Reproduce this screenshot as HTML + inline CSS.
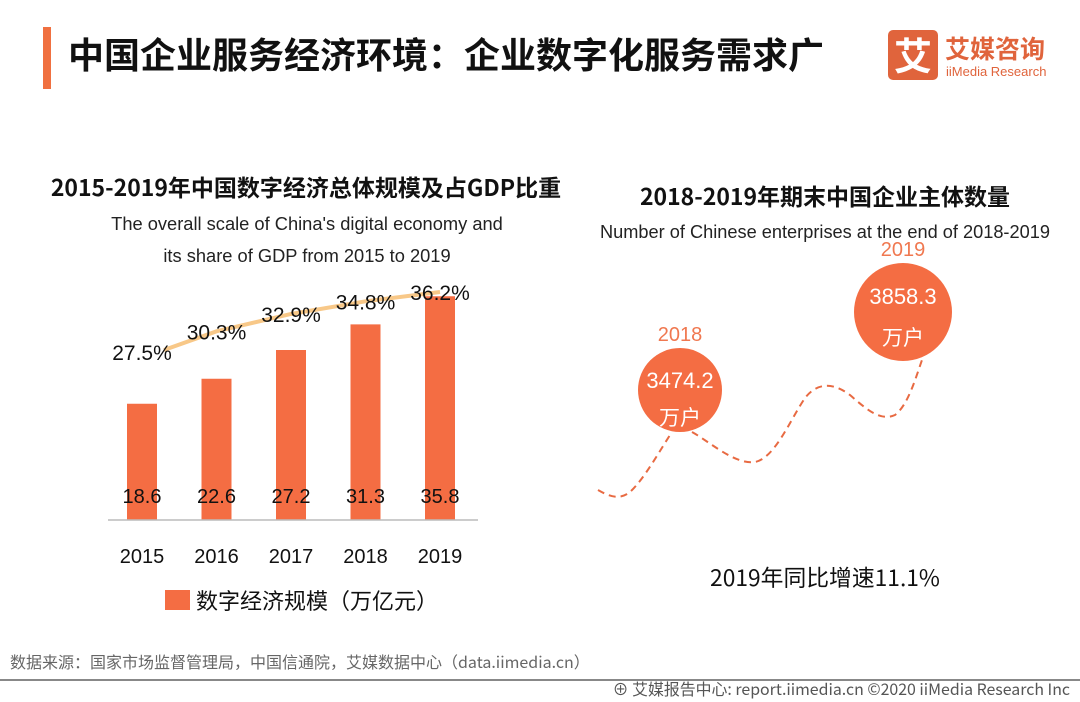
<!DOCTYPE html>
<html><head><meta charset="utf-8">
<style>
body{margin:0;width:1080px;height:702px;background:#fff;overflow:hidden;font-family:"Liberation Sans","Noto Sans CJK SC",sans-serif;}
svg{display:block}
</style></head><body>
<svg width="1080" height="702" viewBox="0 0 1080 702">
<rect x="43" y="27" width="8" height="62" fill="#f07040"/>
<text x="68" y="68" font-size="36" font-weight="bold" fill="#111" font-family="Noto Sans CJK SC,sans-serif">中国企业服务经济环境：企业数字化服务需求广</text>
<g>
<rect x="888" y="30" width="50" height="50" rx="5" fill="#e0643c"/>
<text x="913" y="70" font-size="38" fill="#fff" text-anchor="middle" font-family="Noto Sans CJK SC,sans-serif" font-weight="bold">艾</text>
<text x="945" y="58" font-size="25" fill="#e0643c" font-weight="bold" font-family="Noto Sans CJK SC,sans-serif">艾媒咨询</text>
<text x="946" y="76" font-size="13" fill="#e0643c">iiMedia Research</text>
</g>
<text x="306" y="196" font-size="23" font-weight="bold" text-anchor="middle" fill="#111" font-family="Noto Sans CJK SC,sans-serif">2015-2019年中国数字经济总体规模及占GDP比重</text>
<text x="307" y="230" font-size="18.3" text-anchor="middle" fill="#222">The overall scale of China's digital economy and</text>
<text x="307" y="262" font-size="18.3" text-anchor="middle" fill="#222">its share of GDP from 2015 to 2019</text>
<g id="bars"></g>
<line x1="108" y1="520" x2="478" y2="520" stroke="#bbb" stroke-width="1.5"/>
<rect x="165" y="590" width="25" height="20" fill="#f46d43"/>
<text x="196" y="609" font-size="22" fill="#111" font-family="Noto Sans CJK SC,sans-serif">数字经济规模（万亿元）</text>
<text x="825" y="205" font-size="23" font-weight="bold" text-anchor="middle" fill="#111" font-family="Noto Sans CJK SC,sans-serif">2018-2019年期末中国企业主体数量</text>
<text x="825" y="238" font-size="18.2" text-anchor="middle" fill="#222">Number of Chinese enterprises at the end of 2018-2019</text>
<path d="M598,490 C610,497 620,500 630,492 C645,478 660,450 672,432 M692,432 C710,442 735,465 755,462 C775,458 790,420 805,398 C815,385 830,380 850,395 C865,408 880,422 895,415 C908,405 915,380 923,357" fill="none" stroke="#e86a42" stroke-width="2" stroke-dasharray="7,5"/>
<g id="bubbles"></g>
<text x="825" y="586" font-size="22.8" text-anchor="middle" fill="#111" font-family="Noto Sans CJK SC,sans-serif">2019年同比增速11.1%</text>
<text x="10" y="668" font-size="16" fill="#666" font-family="Noto Sans CJK SC,sans-serif">数据来源：国家市场监督管理局，中国信通院，艾媒数据中心（data.iimedia.cn）</text>
<line x1="0" y1="680" x2="1080" y2="680" stroke="#888" stroke-width="2"/>
<text x="1070" y="695" font-size="15.9" fill="#555" text-anchor="end" font-family="Noto Sans CJK SC,sans-serif">⊕ 艾媒报告中心: report.iimedia.cn   ©2020  iiMedia Research  Inc</text>
</svg>
<script>
const years=["2015","2016","2017","2018","2019"];
const scale=[18.6,22.6,27.2,31.3,35.8];
const share=[27.5,30.3,32.9,34.8,36.2];
const ent=["2018","2019"];
const entVals=["3474.2","3858.3"];
const NS="http://www.w3.org/2000/svg";
function mk(t,a,p){const e=document.createElementNS(NS,t);for(const k in a)e.setAttribute(k,a[k]);p.appendChild(e);return e;}
const xC=i=>142+i*74.5;
const yBar=v=>520-v*6.25;
const yPct=v=>350-(v-27.5)*6.67;
const g=document.getElementById('bars');
scale.forEach((v,i)=>{
 const r=mk('rect',{x:xC(i)-15,y:yBar(v),width:30,height:520-yBar(v),fill:'#f46d43'},g);
 
 
 const t=mk('text',{x:xC(i),y:503,'font-size':20,'text-anchor':'middle',fill:'#111'},g);t.textContent=v.toFixed(1);
 
 
 const y=mk('text',{x:xC(i),y:563,'font-size':20,'text-anchor':'middle',fill:'#111'},g);y.textContent=years[i];
 
 
});
const pl=mk('polyline',{points:share.map((v,i)=>(xC(i)+(i==0?22:0))+','+yPct(v)).join(' '),fill:'none',stroke:'#f8c888','stroke-width':4},g);


share.forEach((v,i)=>{
 const t=mk('text',{x:xC(i),y:yPct(v)+10-(i==0?0:2),'font-size':21,'text-anchor':'middle',fill:'#111'},g);t.textContent=v.toFixed(1)+'%';
 
 
});
const b=document.getElementById('bubbles');
const bx=[680,903],by=[390,312],br=[42,49];
ent.forEach((yr,i)=>{
 const c=mk('circle',{cx:bx[i],cy:by[i],r:br[i],fill:'#f46d43'},b);
 
 
 const yl=mk('text',{x:bx[i],y:by[i]-br[i]-7,'font-size':20,'text-anchor':'middle',fill:'#f07850'},b);yl.textContent=yr;
 
 
 const v=mk('text',{x:bx[i],y:by[i]-(i?8:2),'font-size':22,'text-anchor':'middle',fill:'#fff'},b);v.textContent=entVals[i];
 
 
 const u=mk('text',{x:bx[i],y:by[i]+(i?33:35),'font-size':21,'text-anchor':'middle',fill:'#fff','font-family':'Noto Sans CJK SC,sans-serif'},b);u.textContent='万户';
 
 
});
</script>
</body></html>
